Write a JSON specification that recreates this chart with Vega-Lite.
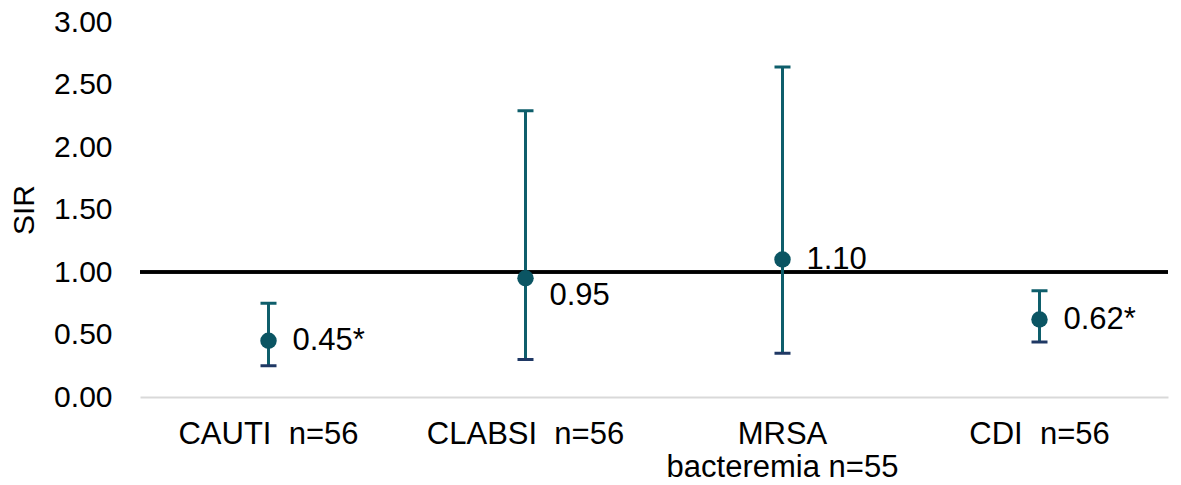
{
  "$schema": "https://vega.github.io/schema/vega-lite/v6.json",
  "width": 1028,
  "height": 375,
  "autosize": "none",
  "padding": {"left": 140, "top": 22, "right": 13, "bottom": 88},
  "config": {"font": "Liberation Sans", "view": {"stroke": null}},
  "data": {
    "values": [
      {"cat": "CAUTI\u00a0 n=56", "sir": 0.45, "lo": 0.25, "hi": 0.75, "label": "0.45*"},
      {"cat": "CLABSI\u00a0 n=56", "sir": 0.95, "lo": 0.30, "hi": 2.29, "label": "0.95"},
      {"cat": "MRSA|bacteremia n=55", "sir": 1.10, "lo": 0.35, "hi": 2.64, "label": "1.10"},
      {"cat": "CDI\u00a0 n=56", "sir": 0.62, "lo": 0.44, "hi": 0.85, "label": "0.62*"}
    ]
  },
  "layer": [
    {
      "mark": {"type": "rule", "color": "#000000", "strokeWidth": 3},
      "encoding": {
        "y": {
          "datum": 1,
          "type": "quantitative",
          "scale": {"domain": [0, 3]},
          "axis": {
            "title": "SIR",
            "values": [0, 0.5, 1, 1.5, 2, 2.5, 3],
            "format": ".2f",
            "domain": false,
            "ticks": false,
            "labelPadding": 28,
            "labelFontSize": 30,
            "labelColor": "#000000",
            "titleFontSize": 30,
            "titleFontWeight": "normal",
            "titleColor": "#000000",
            "titlePadding": 14,
            "gridColor": "#D9D9D9",
            "gridWidth": 2
          }
        }
      }
    },
    {
      "mark": {"type": "rule", "color": "#0E5E6B", "strokeWidth": 3},
      "encoding": {
        "x": {
          "field": "cat",
          "type": "nominal",
          "sort": null,
          "scale": {"paddingInner": 0, "paddingOuter": 0},
          "axis": {
            "title": null,
            "labelAngle": 0,
            "labelExpr": "split(datum.value, '|')",
            "labelFontSize": 31,
            "labelLimit": 400,
            "labelColor": "#000000",
            "labelPadding": 22,
            "labelLineHeight": 33,
            "ticks": false,
            "grid": false,
            "domainColor": "#D9D9D9",
            "domainWidth": 2
          }
        },
        "y": {"field": "lo", "type": "quantitative"},
        "y2": {"field": "hi"}
      }
    },
    {
      "mark": {"type": "tick", "color": "#0E5E6B", "size": 16, "thickness": 3, "opacity": 1},
      "encoding": {
        "x": {"field": "cat", "type": "nominal", "sort": null},
        "y": {"field": "hi", "type": "quantitative"}
      }
    },
    {
      "mark": {"type": "tick", "color": "#1F3864", "size": 16, "thickness": 3, "opacity": 1},
      "encoding": {
        "x": {"field": "cat", "type": "nominal", "sort": null},
        "y": {"field": "lo", "type": "quantitative"}
      }
    },
    {
      "mark": {"type": "circle", "size": 270, "color": "#0B5563", "opacity": 1},
      "encoding": {
        "x": {"field": "cat", "type": "nominal", "sort": null},
        "y": {"field": "sir", "type": "quantitative"}
      }
    },
    {
      "transform": [{"filter": "datum.label != '0.95'"}],
      "mark": {"type": "text", "align": "left", "baseline": "middle", "dx": 24, "fontSize": 31, "color": "#000000"},
      "encoding": {
        "x": {"field": "cat", "type": "nominal", "sort": null},
        "y": {"field": "sir", "type": "quantitative"},
        "text": {"field": "label"}
      }
    },
    {
      "transform": [{"filter": "datum.label == '0.95'"}],
      "mark": {"type": "text", "align": "left", "baseline": "middle", "dx": 24, "dy": 18, "fontSize": 31, "color": "#000000"},
      "encoding": {
        "x": {"field": "cat", "type": "nominal", "sort": null},
        "y": {"field": "sir", "type": "quantitative"},
        "text": {"field": "label"}
      }
    }
  ]
}
